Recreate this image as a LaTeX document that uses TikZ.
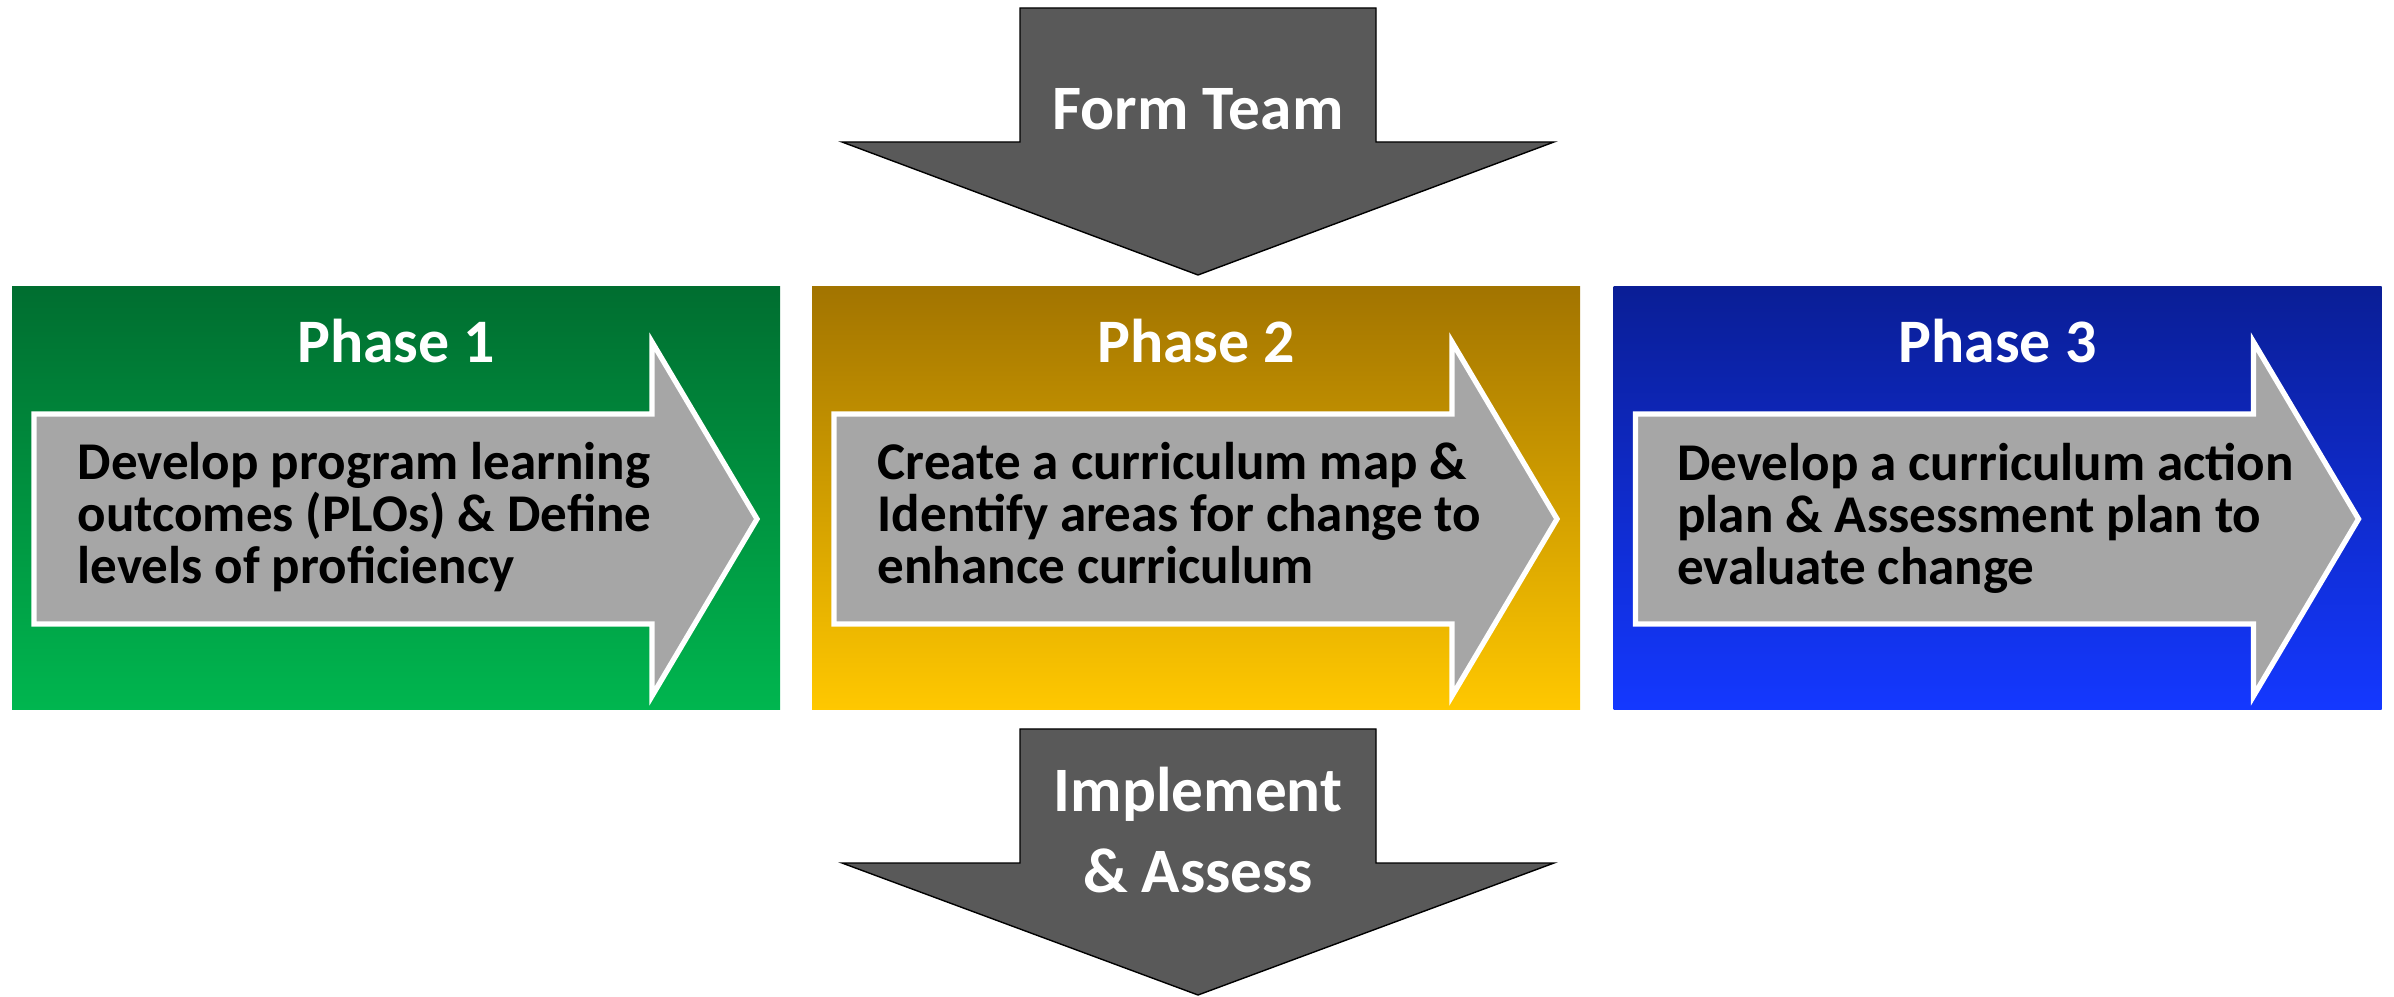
\documentclass[tikz,border=0pt]{standalone}
\usepackage{fontspec}
\setmainfont{Carlito}
\definecolor{greentop}{HTML}{006E30}
\definecolor{greenbot}{HTML}{00B64F}
\definecolor{goldtop}{HTML}{A27400}
\definecolor{goldbot}{HTML}{FFC800}
\definecolor{bluetop}{HTML}{0A1E96}
\definecolor{bluebot}{HTML}{1438FF}
\definecolor{stepgray}{HTML}{A6A6A6}
\definecolor{flowgray}{HTML}{595959}
\begin{document}
\begin{tikzpicture}[
        phase/.style={rectangle, inner sep=0pt, outer sep=0pt, minimum width=7.68cm, minimum height=4.23cm},
        phasetitle/.style={text=white, inner sep=0pt, font=\bfseries\fontsize{17.6}{21}\selectfont},
        body/.style={inner sep=0pt, align=left, font=\bfseries\fontsize{15.1}{14.8}\selectfont},
        steparrow/.style={fill=stepgray, draw=white, line width=1.5pt, line join=miter},
        flowarrow/.style={fill=flowgray},
        flowtext/.style={text=white, inner sep=0pt, align=center, font=\bfseries\fontsize{18}{22.8}\selectfont}
    ]
    \useasboundingbox (0,0) rectangle (23.94,9.96);

    % the three phases
    \node at (3.96,4.975) [phase, top color=greentop, bottom color=greenbot] (p1) {};
    \node at (11.96,4.975) [phase, top color=goldtop, bottom color=goldbot] (p2) {};
    \node at (19.975,4.975) [phase, top color=bluetop, bottom color=bluebot] (p3) {};

    \draw[steparrow] ([shift={(0.22,-1.27)}]p1.north west) -- ++(6.18,0) -- ++(0,0.72) -- ++(1.05,-1.77) -- ++(-1.05,-1.77) -- ++(0,0.72) -- ++(-6.18,0) -- cycle;
    \draw[steparrow] ([shift={(0.22,-1.27)}]p2.north west) -- ++(6.18,0) -- ++(0,0.72) -- ++(1.05,-1.77) -- ++(-1.05,-1.77) -- ++(0,0.72) -- ++(-6.18,0) -- cycle;
    \draw[steparrow] ([shift={(0.22,-1.27)}]p3.north west) -- ++(6.18,0) -- ++(0,0.72) -- ++(1.05,-1.77) -- ++(-1.05,-1.77) -- ++(0,0.72) -- ++(-6.18,0) -- cycle;

    \node[phasetitle, anchor=base] at ([yshift=-0.76cm]p1.north) (t1) {Phase 1};
    \node[phasetitle, anchor=base] at ([yshift=-0.76cm]p2.north) (t2) {Phase 2};
    \node[phasetitle, anchor=base] at ([yshift=-0.76cm]p3.north) (t3) {Phase 3};

    \node[body, anchor=north west] at ([shift={(0.65,-1.55)}]p1.north west) (b1) {Develop program learning\\outcomes (PLOs) \& Define\\levels of proficiency};
    \node[body, anchor=north west] at ([shift={(0.65,-1.55)}]p2.north west) (b2) {Create a curriculum map \&\\Identify areas for change to\\enhance curriculum};
    \node[body, anchor=north west] at ([shift={(0.63,-1.55)}]p3.north west) (b3) {Develop a curriculum action\\plan \& Assessment plan to\\evaluate change};

    % team in, results out
    \coordinate (teamtip) at (11.98,7.21);
    \coordinate (outtip) at (11.98,0.01);
    \draw[flowarrow] (teamtip) -- ++(-3.56,1.33) -- ++(1.78,0) -- ++(0,1.34) -- ++(3.56,0) -- ++(0,-1.34) -- ++(1.78,0) -- cycle;
    \draw[flowarrow] (outtip) -- ++(-3.56,1.32) -- ++(1.78,0) -- ++(0,1.34) -- ++(3.56,0) -- ++(0,-1.34) -- ++(1.78,0) -- cycle;

    \node[flowtext, anchor=base] at (11.98,8.66) (team) {Form Team};
    \node[flowtext] at (11.98,1.66) (impl) {Implement\\\& Assess};
\end{tikzpicture}
\end{document}
